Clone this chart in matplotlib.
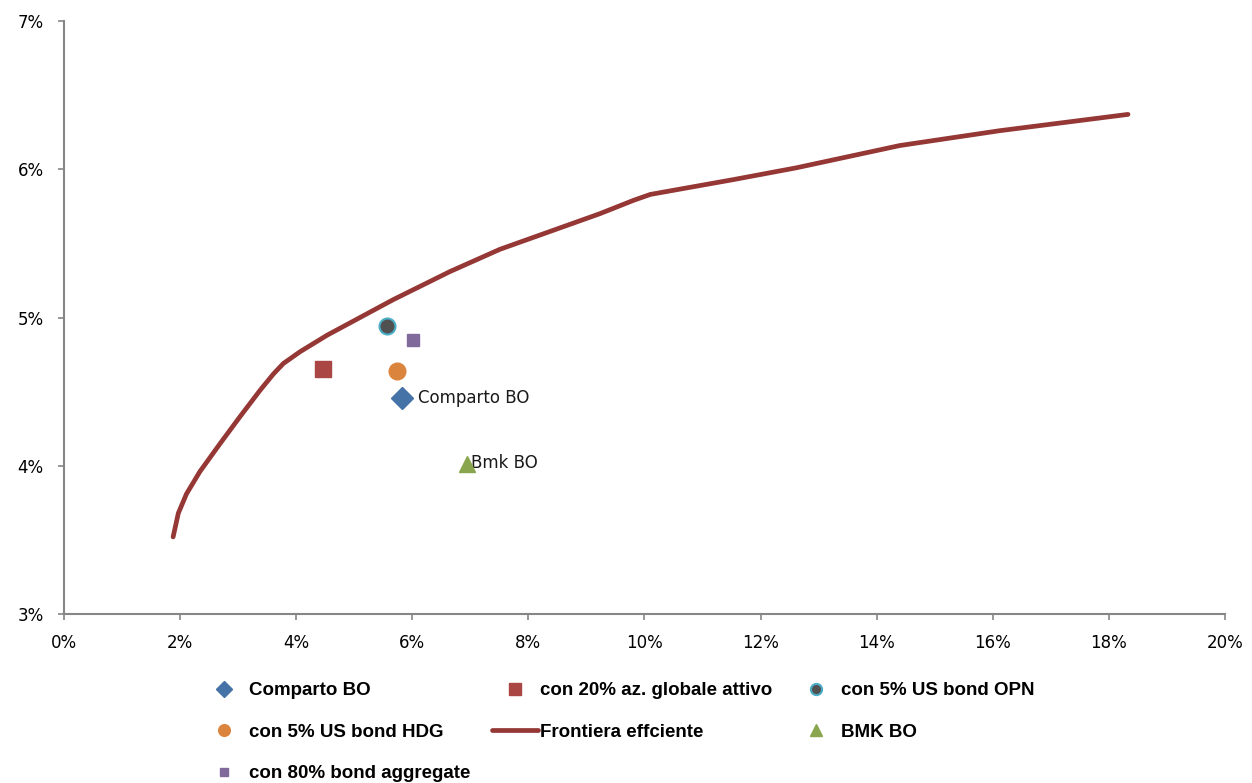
import matplotlib.pyplot as plt
from matplotlib.ticker import FuncFormatter

# frontiera efficiente (rischio %, rendimento %)
front_x = [1.88, 1.97, 2.11, 2.34, 2.69, 3.03, 3.38, 3.61, 3.78, 4.07, 4.53, 5.10, 5.67,
           6.65, 7.51, 8.37, 9.23, 9.81, 10.10, 10.67, 11.53, 12.62, 14.40, 16.12, 18.33]
front_y = [3.52, 3.68, 3.81, 3.96, 4.15, 4.33, 4.51, 4.62, 4.69, 4.77, 4.88, 5.00, 5.12,
           5.31, 5.46, 5.58, 5.70, 5.79, 5.83, 5.87, 5.93, 6.01, 6.16, 6.26, 6.37]

# portafogli
comparto = (5.82, 4.46)
az_globale = (4.46, 4.65)
opn = (5.56, 4.94)
hdg = (5.74, 4.64)
bmk = (6.94, 4.01)
aggregate = (6.01, 4.85)

plt.rcParams['font.family'] = ['DejaVu Sans']

fig = plt.figure(figsize=(12.52, 7.83), dpi=100)
ax = fig.add_axes([0.0511, 0.2158, 0.9273, 0.7574])

h_comp, = ax.plot(*comparto, 'D', color='#4572A7', ms=11, mec='#4572A7', label='Comparto BO', zorder=4)
h_az, = ax.plot(*az_globale, 's', color='#AA4643', ms=12, label='con 20% az. globale attivo', zorder=4)
h_opn, = ax.plot(*opn, 'o', color='#505050', mec='#4BACC6', mew=1.5, ms=11.5, label='con 5% US bond OPN', zorder=4)
h_hdg, = ax.plot(*hdg, 'o', color='#DB843D', ms=12, label='con 5% US bond HDG', zorder=4)
h_front, = ax.plot(front_x, front_y, '-', color='#953735', lw=3.4, solid_capstyle='round',
                   solid_joinstyle='round', label='Frontiera effciente', zorder=3)
h_bmk, = ax.plot(*bmk, '^', color='#89A54E', ms=12, label='BMK BO', zorder=4)
h_agg, = ax.plot(*aggregate, 's', color='#80699B', ms=9, label='con 80% bond aggregate', zorder=4)

ax.text(comparto[0] + 0.28, comparto[1], 'Comparto BO', fontsize=12, va='center', ha='left', color='#1a1a1a')
ax.text(bmk[0] + 0.08, bmk[1] + 0.01, 'Bmk BO', fontsize=12, va='center', ha='left', color='#1a1a1a')

ax.set_xlim(0, 20)
ax.set_ylim(3, 7)
ax.set_xticks(range(0, 21, 2))
ax.set_yticks(range(3, 8))
pct = FuncFormatter(lambda v, p: f'{v:.0f}%')
ax.xaxis.set_major_formatter(pct)
ax.yaxis.set_major_formatter(pct)
ax.tick_params(direction='out', length=4.5, width=1.2, color='#868686', labelsize=12)
ax.tick_params(axis='y', pad=10)
ax.tick_params(axis='x', pad=10)
for s in ['top', 'right']:
    ax.spines[s].set_visible(False)
for s in ['left', 'bottom']:
    ax.spines[s].set_color('#868686')
    ax.spines[s].set_linewidth(1.5)

# legenda in basso, ordinata per righe
handles = [h_comp, h_hdg, h_agg, h_az, h_front, h_opn, h_bmk]
fig.legend(handles=handles, labels=[h.get_label() for h in handles], ncol=3,
           loc='upper left', bbox_to_anchor=(0.1605, 0.129), frameon=False,
           borderpad=0, borderaxespad=0,
           prop={'family': ['Liberation Sans', 'DejaVu Sans'], 'weight': 'bold', 'size': 13.5},
           handlelength=2.45, handletextpad=0.1, columnspacing=1.15, labelspacing=1.3,
           markerscale=0.7)

fig.savefig('out.png', dpi=100)
